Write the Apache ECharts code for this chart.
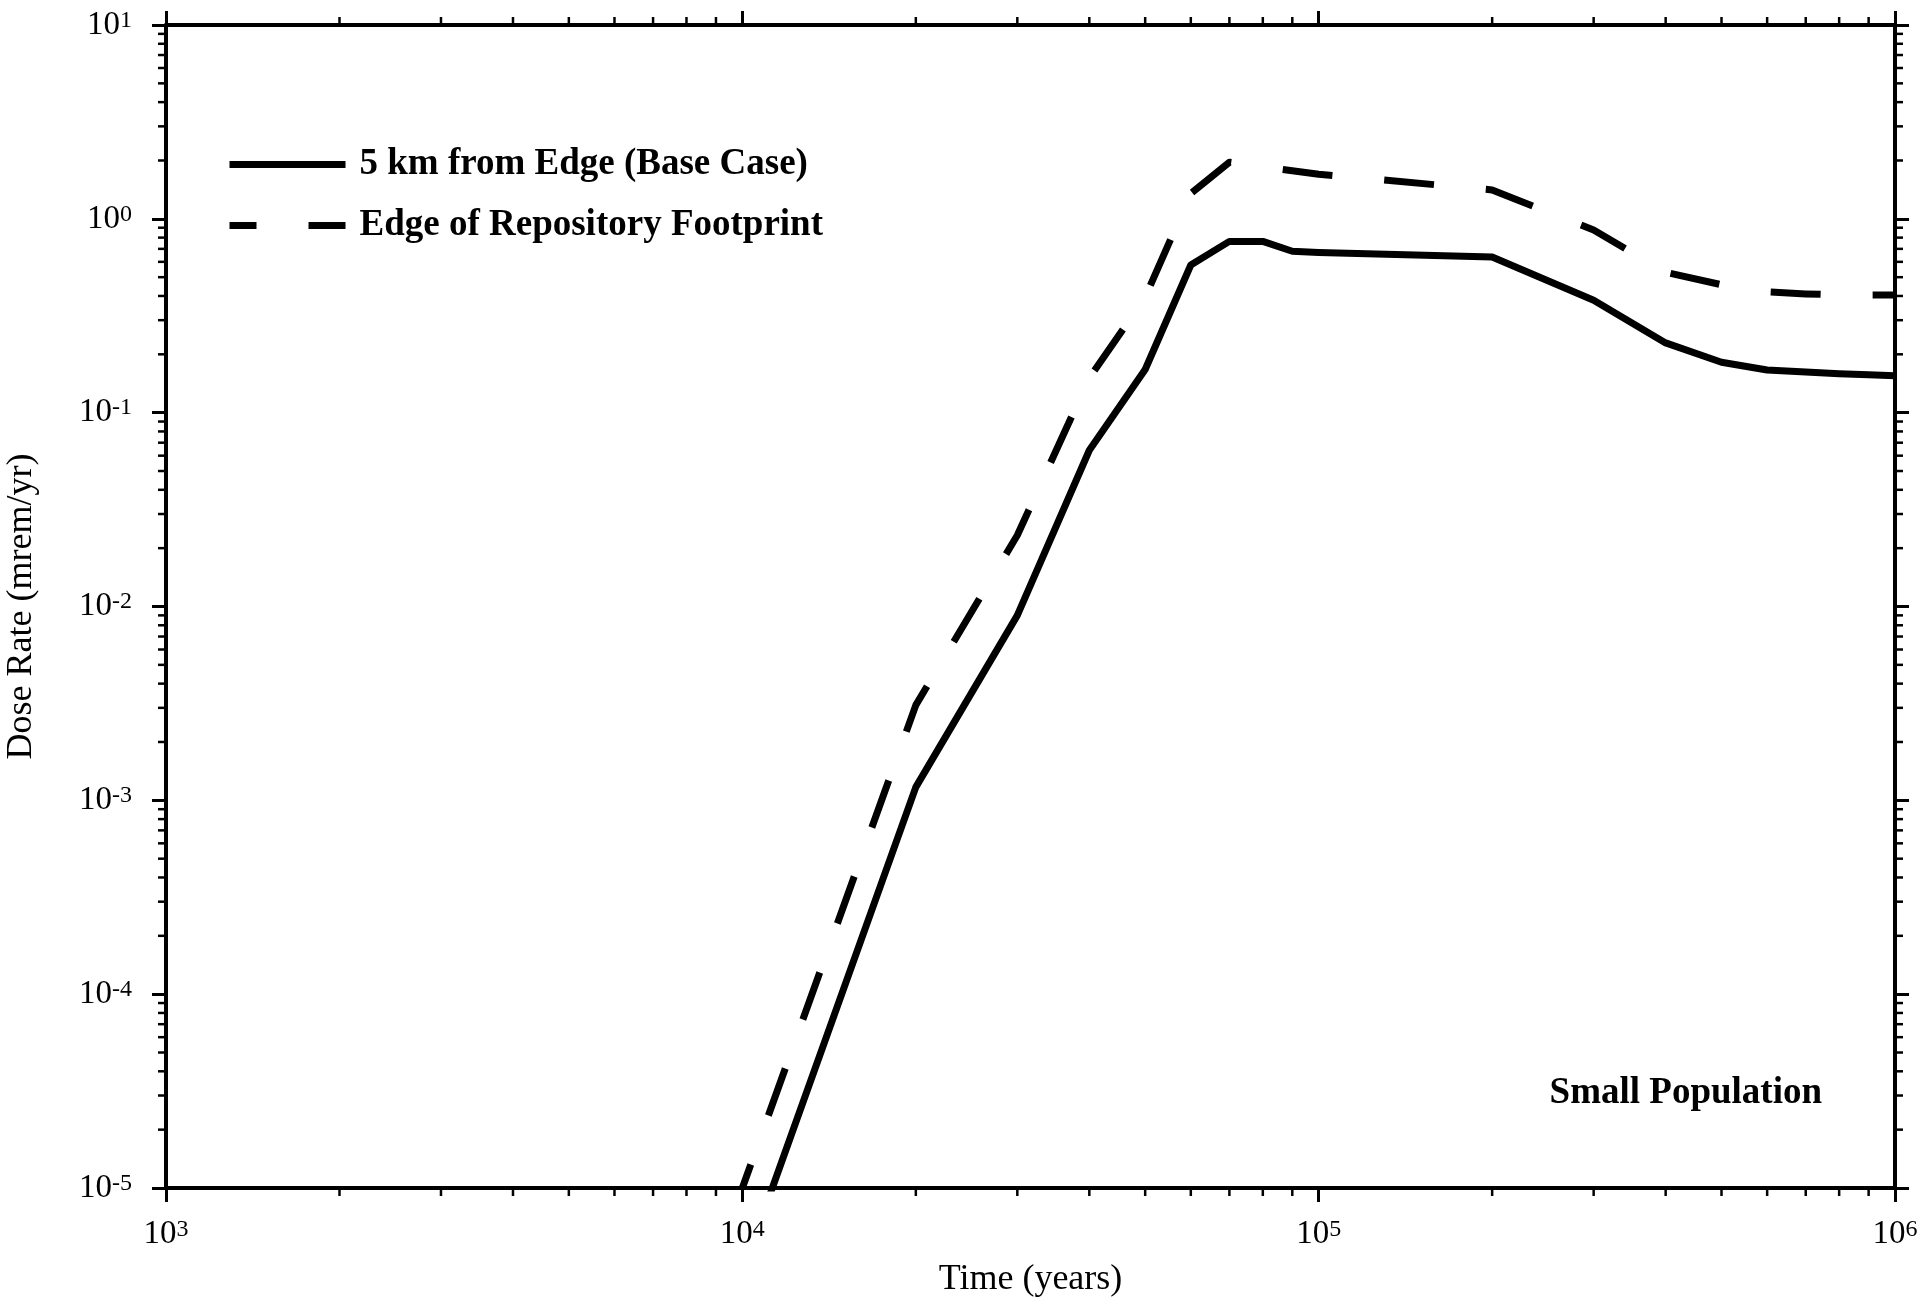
<!DOCTYPE html>
<html>
<head>
<meta charset="utf-8">
<title>Dose Rate - Small Population</title>
<script src="https://cdn.jsdelivr.net/npm/echarts@6/dist/echarts.min.js"></script>
<style>
  html, body { margin: 0; padding: 0; background: #fff; }
  #chart { width: 1924px; height: 1297px; }
</style>
</head>
<body>
<div id="chart"></div>
<script>
// time points (years)
const times = [10000, 20000, 30000, 40000, 50000, 60000, 70000, 80000, 90000, 100000,
  200000, 300000, 400000, 500000, 600000, 700000, 800000, 900000, 1000000];
// 5 km from edge (base case), mrem/yr
const baseCase = [3.7e-6, 1.17e-3, 9.0e-3, 0.064, 0.167, 0.578, 0.765, 0.765, 0.68, 0.67,
  0.635, 0.38, 0.229, 0.182, 0.166, 0.162, 0.159, 0.157, 0.155];
// edge of repository footprint, mrem/yr
const repoEdge = [1.0e-5, 3.1e-3, 0.0233, 0.151, 0.394, 1.35, 1.96, 1.85, 1.77, 1.70,
  1.41, 0.875, 0.53, 0.457, 0.42, 0.41, 0.405, 0.405, 0.405];

const seriesNames = ["5 km from Edge (Base Case)", "Edge of Repository Footprint"];

const xMin = 1e3, xMax = 1e6;
const yMin = 1e-5, yMax = 10;

// 2..9 x 10^k minor tick positions
function decadeMinors(fromExp, toExp) {
  const out = [];
  for (let e = fromExp; e < toExp; e++) {
    for (let m = 2; m <= 9; m++) out.push(m * Math.pow(10, e));
  }
  return out;
}
const xMinorTicks = decadeMinors(3, 6);
const yMinorTicks = decadeMinors(-5, 1);

const font = '"Liberation Serif", "DejaVu Serif", serif';
const chart = echarts.init(document.getElementById("chart"));

const labelRich = {
  b: { fontSize: 33, fontFamily: font, color: "#000" },
  s: { fontSize: 24, fontFamily: font, color: "#000", verticalAlign: "top" },
};
const powLabel = (v) => "{b|10}{s|" + Math.round(Math.log10(v)) + "}";

const axisLine = { show: true, onZero: false, lineStyle: { color: "#000", width: 4 } };
const majorTick = { show: true, inside: false, length: 14, lineStyle: { color: "#000", width: 3 } };

// short outward minor ticks on all four sides
function minorTickSeries(values, dim) {
  return {
    type: "custom",
    silent: true,
    clip: false,
    z: 1,
    data: values.map((v) => (dim === "x" ? [v, yMin] : [xMin, v])),
    renderItem: (params, api) => {
      const style = { stroke: "#000", lineWidth: 2.5 };
      if (dim === "x") {
        const v = api.value(0);
        const b = api.coord([v, yMin]);
        const t = api.coord([v, yMax]);
        return {
          type: "group",
          children: [
            { type: "line", shape: { x1: b[0], y1: b[1], x2: b[0], y2: b[1] + 8 }, style },
            { type: "line", shape: { x1: t[0], y1: t[1], x2: t[0], y2: t[1] - 8 }, style },
          ],
        };
      }
      const v = api.value(1);
      const l = api.coord([xMin, v]);
      const r = api.coord([xMax, v]);
      return {
        type: "group",
        children: [
          { type: "line", shape: { x1: l[0], y1: l[1], x2: l[0] - 8, y2: l[1] }, style },
          { type: "line", shape: { x1: r[0], y1: r[1], x2: r[0] + 8, y2: r[1] }, style },
        ],
      };
    },
  };
}

const option = {
  backgroundColor: "#fff",
  animation: false,
  grid: { left: 166, right: 29, top: 25, bottom: 109, outerBoundsMode: "none", containLabel: false },
  title: {
    text: "Small Population",
    right: 102,
    top: 1075,
    padding: 0,
    textStyle: { fontFamily: font, fontWeight: "bold", fontSize: 37, color: "#000" },
  },
  legend: {
    orient: "vertical",
    left: 226,
    top: 146,
    padding: 0,
    itemWidth: 116,
    itemHeight: 40,
    itemGap: 24,
    selectedMode: false,
    itemStyle: { opacity: 0 },
    textStyle: { fontFamily: font, fontWeight: "bold", fontSize: 37, color: "#000", padding: [0, 0, 0, 9] },
    data: [
      { name: seriesNames[0], lineStyle: { color: "#000", width: 7, type: "solid" } },
      { name: seriesNames[1], lineStyle: { color: "#000", width: 7, type: [27, 52, 37, 10], dashOffset: 0 } },
    ],
  },
  xAxis: [
    {
      type: "log",
      logBase: 10,
      min: xMin,
      max: xMax,
      interval: 1,
      position: "bottom",
      name: "Time (years)",
      nameLocation: "middle",
      nameGap: 74,
      nameTextStyle: { fontFamily: font, fontSize: 36, color: "#000" },
      axisLine,
      axisTick: majorTick,
      splitLine: { show: false },
      axisLabel: { margin: 30, formatter: powLabel, rich: labelRich },
    },
    {
      type: "log",
      logBase: 10,
      min: xMin,
      max: xMax,
      interval: 1,
      position: "top",
      axisLine,
      axisTick: majorTick,
      splitLine: { show: false },
      axisLabel: { show: false },
    },
  ],
  yAxis: [
    {
      type: "log",
      logBase: 10,
      min: yMin,
      max: yMax,
      interval: 1,
      position: "left",
      name: "Dose Rate (mrem/yr)",
      nameLocation: "middle",
      nameGap: 126,
      nameTextStyle: { fontFamily: font, fontSize: 36, color: "#000" },
      axisLine,
      axisTick: majorTick,
      splitLine: { show: false },
      axisLabel: { margin: 34, formatter: powLabel, rich: labelRich },
    },
    {
      type: "log",
      logBase: 10,
      min: yMin,
      max: yMax,
      interval: 1,
      position: "right",
      axisLine,
      axisTick: majorTick,
      splitLine: { show: false },
      axisLabel: { show: false },
    },
  ],
  series: [
    {
      name: seriesNames[0],
      type: "line",
      data: times.map((t, i) => [t, baseCase[i]]),
      symbol: "none",
      clip: true,
      itemStyle: { color: "#000" },
      lineStyle: { color: "#000", width: 7, type: "solid", join: "round" },
      z: 3,
    },
    {
      name: seriesNames[1],
      type: "line",
      data: times.map((t, i) => [t, repoEdge[i]]),
      symbol: "none",
      clip: true,
      itemStyle: { color: "#000" },
      lineStyle: { color: "#000", width: 7, type: [50, 52], dashOffset: 25, cap: "butt", join: "round" },
      z: 3,
    },
    minorTickSeries(xMinorTicks, "x"),
    minorTickSeries(yMinorTicks, "y"),
  ],
};

chart.setOption(option);
</script>
</body>
</html>
